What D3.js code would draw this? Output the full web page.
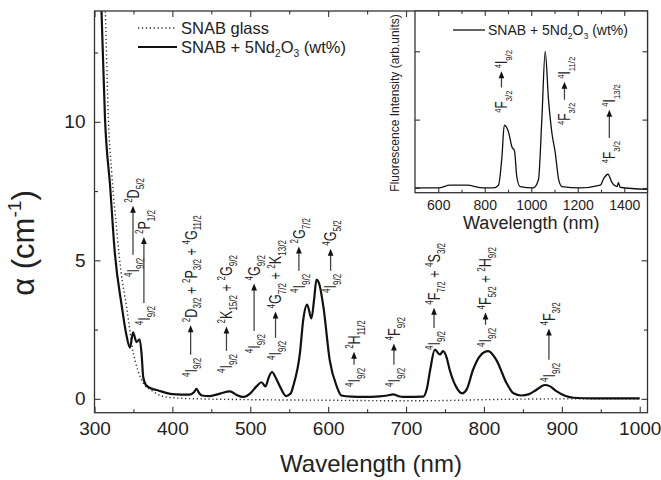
<!DOCTYPE html>
<html>
<head>
<meta charset="utf-8">
<script src="https://cdn.jsdelivr.net/npm/d3@7"></script>
<style>
body { margin: 0; background: #fff; }
svg text { font-family: "Liberation Sans", Arial, sans-serif; fill: #222; }
</style>
</head>
<body>
<div id="chart"></div>
<script>
// absorption of the undoped glass (dotted)
var glassWl = [308, 313.9, 317.8, 322, 328.5, 334, 341, 349.8, 356, 362.7, 375, 388, 405, 450, 500, 600, 700, 750, 800, 850, 900, 1000];
var glassAlpha = [17.5, 14, 10.1, 8.2, 6.1, 4.6, 3.35, 1.66, 1.0, 0.57, 0.27, 0.09, 0.03, -0.01, -0.03, -0.05, -0.07, -0.06, -0.03, -0.01, 0, 0];

// absorption of SNAB + 5Nd2O3 (solid)
var ndWl = [305, 309, 313.5, 320, 326, 335, 341, 345.5, 349.5, 354, 358, 360.5, 362.5, 366, 372, 380, 400, 422, 428, 431, 434, 438, 448, 461, 474, 482, 491, 500, 508, 514.5, 519.5, 524, 528, 532, 538, 546, 552, 555, 563.8, 568, 573, 578.5, 582, 585, 589, 594, 602, 611, 617, 630, 645, 666, 676, 683.5, 690, 696, 722, 727, 731, 737, 743.5, 747.5, 752, 756, 764, 772, 778, 786, 795, 805.5, 816, 829, 838, 848, 858, 867.5, 878, 885, 893, 905, 915, 940, 1000];
var ndAlpha = [16.5, 14, 10.1, 7.7, 5.3, 3.35, 2.3, 1.85, 2.4, 2.05, 2.15, 1.6, 0.8, 0.5, 0.38, 0.32, 0.17, 0.15, 0.25, 0.36, 0.22, 0.12, 0.1, 0.19, 0.27, 0.15, 0.07, 0.2, 0.45, 0.6, 0.45, 0.8, 0.97, 0.8, 0.45, 0.1, 0.2, 0.45, 1.66, 2.85, 3.4, 2.9, 3.6, 4.3, 4.1, 3.3, 1.4, 0.45, 0.12, 0.08, 0.07, 0.09, 0.12, 0.16, 0.1, 0.07, 0.08, 0.4, 1.05, 1.78, 1.6, 1.72, 1.5, 1.05, 0.45, 0.2, 0.35, 1.05, 1.55, 1.72, 1.4, 0.57, 0.2, 0.12, 0.17, 0.33, 0.5, 0.45, 0.28, 0.1, 0.04, 0.02, 0.02];

// fluorescence (inset), normalised
var flWl = [500, 600, 651, 723, 794, 837, 859, 874, 884, 902, 917, 928, 938, 952, 1009, 1031, 1046, 1060, 1074, 1089, 1103, 1118, 1132, 1210, 1297, 1312, 1330, 1347, 1369, 1375, 1382, 1500];
var flInt = [0, 0, 0.02, 0.02, 0, 0, 0.02, 0.23, 0.46, 0.41, 0.3, 0.27, 0.08, 0.01, 0, 0.06, 0.52, 1.0, 0.65, 0.4, 0.26, 0.06, 0.01, 0, 0.02, 0.07, 0.1, 0.04, 0.01, 0.04, 0.005, -0.01];

// tick values
var xMajor = [300, 400, 500, 600, 700, 800, 900, 1000];
var xMinor = [350, 450, 550, 650, 750, 850, 950];
var yMajor = [0, 5, 10];
var yMinor = [2.5, 7.5, 12.5];
var inMajor = [600, 800, 1000, 1200, 1400];
var inMinor = [700, 900, 1100, 1300];
var inY = [0, 0.5, 1];

// absorption transitions: from 4I9/2 (wavelength, alpha at bottom / top of label)
var absUpper = ["^{2}D_{5/2}", "^{2}P_{1/2}", "^{2}D_{3/2} + ^{2}P_{3/2} + ^{4}G_{11/2}", "^{2}K_{15/2} + ^{2}G_{9/2}", "^{4}G_{9/2}", "^{4}G_{7/2} + ^{2}K_{13/2}", "^{2}G_{7/2}", "^{4}G_{5/2}", "^{2}H_{11/2}", "^{4}F_{9/2}", "^{4}F_{7/2} + ^{4}S_{3/2}", "^{4}F_{5/2} + ^{2}H_{9/2}", "^{4}F_{3/2}"];
var absWl = [357, 371, 431, 477, 512.5, 540, 570, 610.7, 640.8, 692, 743.5, 809.6, 891];
var absFrom = [4.40, 2.66, 0.79, 0.93, 1.65, 1.40, 3.82, 3.82, 0.43, 0.43, 1.76, 1.87, 0.61];
var absTo = [7.97, 6.82, 6.63, 5.19, 5.19, 5.73, 6.53, 6.45, 2.84, 2.95, 5.63, 5.48, 3.49];

// emission transitions: from 4F3/2
var emUpper = ["^{4}I_{9/2}", "^{4}I_{11/2}", "^{4}I_{13/2}"];
var emWl = [896, 1167, 1360];
var emFrom = [0.55, 0.46, 0.18];
var emTo = [1.01, 0.96, 0.76];

var W = 661, H = 480;
var margin = { top: 11, right: 13.5, bottom: 67.3, left: 94.5 },
    width = W - margin.left - margin.right,
    height = H - margin.top - margin.bottom;

var svg = d3.select("#chart").append("svg")
    .attr("width", W)
    .attr("height", H);

var x = d3.scaleLinear().domain([300, 1010]).range([margin.left, margin.left + width]);
var y = d3.scaleLinear().domain([-0.5, 14]).range([margin.top + height, margin.top]);

svg.append("defs").append("clipPath").attr("id", "clip")
    .append("rect")
    .attr("x", margin.left).attr("y", margin.top)
    .attr("width", width).attr("height", height);

// rich text with ^{sup} and _{sub}
function richText(sel, str, fs, ratio) {
    ratio = ratio || 0.62;
    var t = sel.append("text").style("font-size", fs + "px");
    var parts = str.match(/\^\{[^}]*\}|_\{[^}]*\}|[^\^_]+/g);
    var cur = 0;
    parts.forEach(function (p) {
        var target = 0, txt = p, size = fs;
        if (p[0] == "^") { target = -0.42 * fs; txt = p.slice(2, -1); size = fs * ratio; }
        else if (p[0] == "_") { target = 0.3 * fs; txt = p.slice(2, -1); size = fs * ratio; }
        t.append("tspan")
            .attr("dy", target - cur)
            .style("font-size", size + "px")
            .text(txt);
        cur = target;
    });
    return t;
}

function drawAxes(g, xs, ys, xMaj, xMin, yMaj, yMin, big, small, fs, pad, labelX, labelY) {
    var top = ys.range()[1], bottom = ys.range()[0];
    var left = xs.range()[0], right = xs.range()[1];
    function strip(a) { a.select(".domain").remove(); a.selectAll("line").attr("stroke", "#333").attr("stroke-width", 1.1); }

    g.append("g").attr("transform", "translate(0," + bottom + ")")
        .call(d3.axisBottom(xs).tickValues(xMaj).tickSize(-big).tickPadding(pad).tickFormat(labelX ? d3.format("d") : ""))
        .call(strip)
        .selectAll("text").style("font-size", fs + "px").style("font-family", null).attr("fill", "#222");
    g.append("g").attr("transform", "translate(0," + bottom + ")")
        .call(d3.axisBottom(xs).tickValues(xMin).tickSize(-small).tickFormat("")).call(strip);
    g.append("g").attr("transform", "translate(0," + top + ")")
        .call(d3.axisTop(xs).tickValues(xMaj).tickSize(-big).tickFormat("")).call(strip);
    g.append("g").attr("transform", "translate(0," + top + ")")
        .call(d3.axisTop(xs).tickValues(xMin).tickSize(-small).tickFormat("")).call(strip);

    g.append("g").attr("transform", "translate(" + left + ",0)")
        .call(d3.axisLeft(ys).tickValues(yMaj).tickSize(-big).tickPadding(pad).tickFormat(labelY ? d3.format("d") : ""))
        .call(strip)
        .selectAll("text").style("font-size", fs + "px").style("font-family", null).attr("fill", "#222");
    g.append("g").attr("transform", "translate(" + left + ",0)")
        .call(d3.axisLeft(ys).tickValues(yMin).tickSize(-small).tickFormat("")).call(strip);
    g.append("g").attr("transform", "translate(" + right + ",0)")
        .call(d3.axisRight(ys).tickValues(yMaj).tickSize(-big).tickFormat("")).call(strip);
    g.append("g").attr("transform", "translate(" + right + ",0)")
        .call(d3.axisRight(ys).tickValues(yMin).tickSize(-small).tickFormat("")).call(strip);

    g.append("rect")
        .attr("x", left).attr("y", top)
        .attr("width", right - left).attr("height", bottom - top)
        .attr("fill", "none").attr("stroke", "#333").attr("stroke-width", 1.3);
}

// label | arrow | label, rotated, between two data points
function drawTransition(g, xs, ys, wl, from, to, lower, upper, fs) {
    var x0 = xs(wl), yb = ys(from), total = yb - ys(to);
    // glyphs taller than wide, like the original condensed typeface
    var grp = g.append("g").attr("transform", "translate(" + x0 + "," + yb + ") rotate(-90) scale(1,1.3)");
    var t1 = richText(grp, lower, fs, 0.64).attr("x", 0);
    var l1 = t1.node().getBBox().width;
    var t2 = richText(grp, upper, fs, 0.64);
    var l2 = t2.node().getBBox().width;
    t2.attr("x", total - l2);
    var gap = 3, ay = -0.36 * fs;
    var s = l1 + gap, e = total - l2 - gap;
    grp.append("line")
        .attr("x1", s).attr("x2", e - 5).attr("y1", ay).attr("y2", ay)
        .attr("stroke", "#444").attr("stroke-width", 1.0);
    grp.append("path")
        .attr("d", "M" + e + "," + ay + "L" + (e - 7) + "," + (ay - 2.2) + "L" + (e - 7) + "," + (ay + 2.2) + "Z")
        .attr("fill", "#111");
}

// ---- main chart ----
var main = svg.append("g");

var glassData = glassWl.map(function (d, i) { return { x: d, y: glassAlpha[i] }; });
var ndData = ndWl.map(function (d, i) { return { x: d, y: ndAlpha[i] }; });

var line = d3.line()
    .x(function (d) { return x(d.x); })
    .y(function (d) { return y(d.y); })
    .curve(d3.curveMonotoneX);

main.append("path").datum(glassData)
    .attr("clip-path", "url(#clip)")
    .attr("d", line)
    .attr("fill", "none").attr("stroke", "#333")
    .attr("stroke-width", 1.4).attr("stroke-dasharray", "1.3,2.6");

main.append("path").datum(ndData)
    .attr("clip-path", "url(#clip)")
    .attr("d", line)
    .attr("fill", "none").attr("stroke", "#111")
    .attr("stroke-width", 2.2).attr("stroke-linejoin", "round");

drawAxes(main, x, y, xMajor, xMinor, yMajor, yMinor, 6, 3.5, 19, 9, true, true);

absUpper.forEach(function (u, i) {
    drawTransition(main, x, y, absWl[i], absFrom[i], absTo[i], "^{4}I_{9/2}", u, 12.6);
});

// legend
var leg = main.append("g");
leg.append("line").attr("x1", 138).attr("x2", 177).attr("y1", 28).attr("y2", 28)
    .attr("stroke", "#333").attr("stroke-width", 1.4).attr("stroke-dasharray", "1.3,2.6");
leg.append("text").attr("x", 181).attr("y", 33.5).style("font-size", "16.5px").text("SNAB glass");
leg.append("line").attr("x1", 138).attr("x2", 177).attr("y1", 47).attr("y2", 47)
    .attr("stroke", "#111").attr("stroke-width", 2.2);
richText(leg, "SNAB + 5Nd_{2}O_{3} (wt%)", 16.5).attr("x", 181).attr("y", 52.5);

// axis titles
svg.append("text")
    .attr("x", margin.left + width / 2).attr("y", 472)
    .attr("text-anchor", "middle").style("font-size", "24px")
    .text("Wavelength (nm)");
richText(svg.append("g").attr("transform", "translate(34,243) rotate(-90)"), "\u03b1 (cm^{-1})", 31, 0.62)
    .attr("text-anchor", "middle");

// ---- inset ----
var ix = d3.scaleLinear().domain([500, 1500]).range([415, 647.5]);
var iy = d3.scaleLinear().domain([-0.035, 1.295]).range([192.7, 11]);
var inset = svg.append("g");
inset.append("rect").attr("x", 415).attr("y", 11).attr("width", 232.5).attr("height", 181.7).attr("fill", "#fff");

var flData = flWl.map(function (d, i) { return { x: d, y: flInt[i] }; });
inset.append("path").datum(flData)
    .attr("d", d3.line().x(function (d) { return ix(d.x); }).y(function (d) { return iy(d.y); }).curve(d3.curveMonotoneX))
    .attr("fill", "none").attr("stroke", "#111").attr("stroke-width", 1.3);

drawAxes(inset, ix, iy, inMajor, inMinor, inY, [], 5, 3, 14, 7.5, true, false);

emUpper.forEach(function (u, i) {
    drawTransition(inset, ix, iy, emWl[i], emFrom[i], emTo[i], "^{4}F_{3/2}", u, 12);
});

inset.append("line").attr("x1", 453).attr("x2", 485).attr("y1", 30).attr("y2", 30)
    .attr("stroke", "#111").attr("stroke-width", 1.3);
richText(inset, "SNAB + 5Nd_{2}O_{3} (wt%)", 14).attr("x", 488).attr("y", 34.5);

inset.append("text")
    .attr("x", (415 + 647.5) / 2).attr("y", 229)
    .attr("text-anchor", "middle").style("font-size", "18px")
    .text("Wavelength (nm)");
inset.append("text")
    .attr("transform", "translate(399,103) rotate(-90)")
    .attr("text-anchor", "middle").style("font-size", "12px")
    .text("Fluorescence Intensity (arb.units)");
</script>
</body>
</html>
